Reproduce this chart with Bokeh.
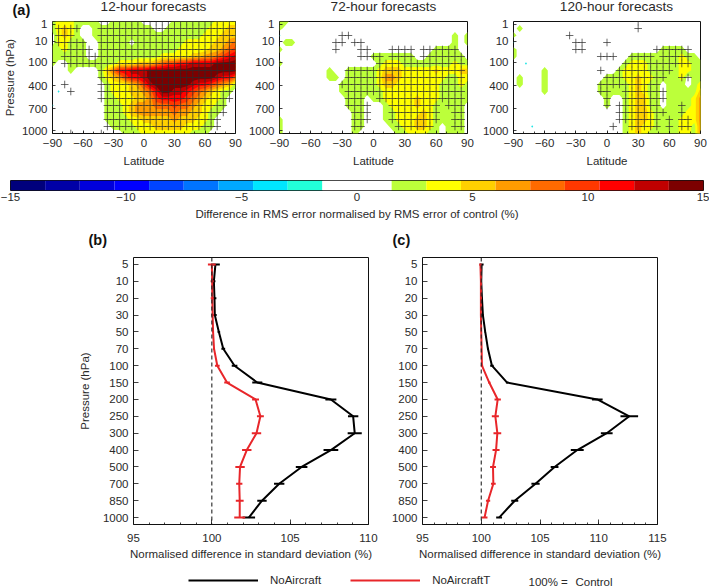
from bokeh.plotting import figure
from bokeh.layouts import column, row
from bokeh.models import Range1d, Span, Label, Legend, LegendItem, FixedTicker
from bokeh.embed import file_html
from bokeh.resources import INLINE
import numpy as np

FONT = "Liberation Sans"
TXT = "#2a2a2a"

# latitude nodes of the hand-read fields (degrees), one every 6 degrees
latitudes = list(range(-90, 91, 6))
lat_ticks = [-90, -60, -30, 0, 30, 60, 90]
lat_labels = ["−90", "−60", "−30", "0", "30", "60", "90"]
# pressure ticks of panel (a), on the row scale of the fields
pressure_a_pos = [0.4, 2.8, 5.8, 9.2, 12.45, 15.6]
pressure_a_labels = ["1", "10", "100", "400", "700", "1000"]

# colour classes: c=cyan, 0=white, 1..9 = the warm bands of the colour bar
fill_12h = [
    "12221 11100 11111 00000 11111 11222 2",
    "12321 00111 11111 11001 11111 12223 3",
    "02321 00111 11111 11111 11111 22233 3",
    "02211 10011 11101 11111 11222 22334 5",
    "11211 10011 11111 11111 12222 23345 6",
    "11111 10011 11111 11122 22233 44567 8",
    "10011 11111 12223 33456 67788 88999 9",
    "00010 00013 57788 89999 99999 99999 9",
    "00000 00012 34677 89999 99999 99877 5",
    "00000 00001 22234 68999 99987 76543 1",
    "0c000 00001 22233 45799 88765 43211 0",
    "00000 00001 12223 34677 77654 32210 0",
    "c0000 00001 11234 44555 65543 22110 0",
    "00000 00001 11234 44444 54433 21100 0",
    "00000 00001 11122 33333 43332 21000 0",
    "00000 00000 11112 22333 33222 11000 0",
    "00000 00000 00111 22222 22211 10000 c",
]
sig_12h = [
    "00000 00011 11111 11111 11111 11111 1",
    "01111 00011 11111 11111 11111 11111 1",
    "01110 00011 11111 11111 11111 11111 1",
    "01111 10011 11111 11111 11111 11111 1",
    "00111 11011 11111 11111 11111 11111 1",
    "00111 11111 11111 11111 11111 11111 1",
    "00111 11111 11111 11111 11111 11111 1",
    "00000 00011 11111 11111 11111 11111 1",
    "00000 00011 11111 11111 11111 11111 1",
    "00100 00011 11111 11111 11111 11111 1",
    "00010 00011 11111 11111 11111 11111 0",
    "00000 00011 11111 11111 11111 11111 0",
    "00000 00001 11111 11111 11111 11110 0",
    "00000 00001 11111 11111 11111 11110 0",
    "00000 00001 11111 11111 11111 11100 0",
    "00000 00001 11111 11111 11111 11100 0",
    "00010 00010 10000 00000 00000 00000 0",
]
fill_72h = [
    "11000 00000 00000 00000 00000 00000 0",
    "10000 00000 00000 00000 00000 00000 0",
    "c0000 00000 00000 00000 00000 00010 1",
    "01100 00000 00000 00000 00000 00010 1",
    "10000 00000 00000 00000 00000 11110 0",
    "00000 00000 00000 11111 11001 11111 0",
    "10000 00000 00000 01222 11111 11121 1",
    "00000 00010 01111 12333 22222 32223 3",
    "00000 00011 01111 12443 22222 22112 2",
    "00000 00000 11111 12332 22222 21112 1",
    "00000 00000 11111 11222 22222 21111 1",
    "00000 00000 01110 11222 22322 21111 1",
    "00000 00000 01110 00122 22322 11111 0",
    "00000 00000 00110 00112 22232 11111 0",
    "10000 00000 00110 00112 22332 11111 0",
    "10000 00000 00110 00011 22332 10111 0",
    "10000 00000 00100 00001 12221 10111 0",
]
sig_72h = [
    "00000 00000 00000 00000 00000 00000 0",
    "00000 00000 00000 00000 00000 00000 0",
    "00000 00000 11000 00000 00000 00000 0",
    "00000 00001 10110 00000 00000 00000 0",
    "00000 00001 00011 00011 11011 11110 0",
    "00000 00000 00011 11011 11011 11111 0",
    "00000 00000 00000 01111 11111 11111 0",
    "00000 00000 01111 11111 11111 11111 0",
    "00000 00000 01111 11111 11111 11111 0",
    "00000 00000 11111 11111 11111 11111 0",
    "00000 00000 01111 11111 11111 11111 0",
    "00000 00000 01110 01111 11111 11111 0",
    "00000 00000 01111 00011 11111 10111 0",
    "00000 00000 00111 00011 11111 10011 0",
    "00000 00000 00111 00011 11111 10011 0",
    "00000 00000 00110 00001 11111 00011 0",
    "00000 00000 00000 00000 00000 00000 0",
]
fill_120h = [
    "00000 00000 00000 00000 00000 00000 0",
    "01000 00000 00000 00000 00000 00000 0",
    "10000 00000 00000 00000 00000 00000 0",
    "c0000 00000 00000 00000 00000 00000 0",
    "10000 00000 00000 00000 00001 11100 0",
    "10000 00000 00000 00001 11111 11211 0",
    "00c00 00000 00000 00012 22111 11221 1",
    "00000 10000 00000 00122 22111 11221 1",
    "01000 10000 00000 11122 32211 11201 1",
    "01000 10000 00001 11112 32110 11101 2",
    "00000 10000 00001 11112 32110 11111 3",
    "00000 00000 00000 10012 33110 11112 4",
    "00000 00000 00000 10012 33110 11112 4",
    "00000 00000 00000 00012 33211 11122 4",
    "00000 00000 00000 00012 33211 11222 4",
    "000c0 00000 00000 00012 32211 11221 4",
    "00000 00000 00000 00012 32111 11221 4",
]
sig_120h = [
    "00000 00000 00000 00000 10000 00000 0",
    "00000 00000 00000 00000 10000 00000 0",
    "00000 00001 00000 00000 00000 00000 0",
    "00000 00000 11000 10000 00000 00000 0",
    "00000 00000 11000 00000 00011 11110 0",
    "00000 00000 00001 11001 11101 11110 0",
    "00000 00000 00000 00011 11111 11110 0",
    "00000 00000 00001 00111 11111 10000 0",
    "00000 00000 00000 11111 11111 00110 0",
    "00000 00000 00001 11111 11110 00000 0",
    "00000 00000 00001 10011 11111 00000 0",
    "00000 00000 00000 10011 11111 00000 0",
    "00000 00000 00000 10111 11110 00100 0",
    "00000 00000 00000 00111 11111 00100 0",
    "00000 00000 00000 00111 11110 10110 0",
    "00000 00000 00000 01001 11110 10110 0",
    "00000 00000 00000 00000 00000 00000 0",
]

# colour bar
bar_edges = [-15, -13.5, -12, -10.5, -9, -7.5, -6, -4.5, -3, -1.5, 0, 1.5, 3, 4.5, 6, 7.5, 9, 10.5, 12, 13.5, 15]
bar_colors = ["#00007c", "#0000a6", "#0000dc", "#0000ff", "#0044ff", "#0074ff", "#00a8ff", "#00e6ff", "#22ffd8",
              "#ffffff", "#ffffff", "#bcff3a", "#ffff00", "#ffd000", "#ff9c00", "#ff6a00", "#ff3800", "#ff0000",
              "#c00000", "#7c0000"]
bar_ticks = [-15, -10, -5, 0, 5, 10, 15]
bar_labels = ["−15", "−10", "−5", "0", "5", "10", "15"]

# profiles
levels_hpa = ["5", "10", "20", "30", "50", "70", "100", "150", "200", "250", "300", "400", "500", "700", "850", "1000"]
b_black = [100.23, 100.13, 100.17, 100.19, 100.45, 100.73, 101.45, 102.9, 107.6, 109.02, 109.12, 107.6, 105.73, 104.3, 103.2, 102.36]
b_black_err = [.28, .1, .12, .12, .08, .12, .18, .32, .35, .33, .45, .47, .37, .33, .3, .4]
b_red = [100.0, 100.02, 100.03, 100.05, 100.08, 100.14, 100.35, 100.97, 102.79, 103.1, 102.85, 102.23, 101.8, 101.75, 101.78, 101.78]
b_red_err = [.25, .1, .1, .08, .05, .06, .15, .18, .22, .22, .3, .3, .3, .2, .25, .35]
c_black = [100.03, 100.0, 100.06, 100.14, 100.34, 100.57, 100.91, 102.2, 109.88, 112.6, 110.68, 108.17, 106.24, 104.62, 102.85, 101.52]
c_black_err = [.17, .05, .05, .05, .05, .08, .15, .1, .45, .75, .5, .55, .33, .35, .3, .25]
c_red = [99.93, 99.97, 99.97, 99.97, 100.0, 100.03, 100.06, 100.68, 101.4, 101.2, 101.37, 101.26, 101.0, 101.03, 100.58, 100.28]
c_red_err = [.1, .03, .03, .03, .03, .03, .1, .1, .27, .3, .33, .3, .25, .2, .18, .25]


def parse(rows):
    out = []
    for r in rows:
        out.append([-0.6 if ch == "c" else float(ch) for ch in r.replace(" ", "")])
    return np.array(out)


def style_axes(p, tick_in=3):
    for ax in list(p.xaxis) + list(p.yaxis):
        ax.axis_line_color = None
        ax.major_tick_in = tick_in
        ax.major_tick_out = 0
        ax.major_tick_line_color = "#111111"
        ax.minor_tick_line_color = "#111111"
        ax.major_tick_line_width = 0.8
        ax.minor_tick_line_width = 0.8
        ax.minor_tick_in = 2
        ax.minor_tick_out = 0
        ax.major_label_text_font = FONT
        ax.major_label_text_font_size = "11.5px"
        ax.major_label_text_color = TXT
        ax.axis_label_text_font = FONT
        ax.axis_label_text_font_size = "11.5px"
        ax.axis_label_text_font_style = "normal"
        ax.axis_label_text_color = TXT
    p.outline_line_color = "#111111"
    p.outline_line_width = 1
    p.grid.visible = False


warm_colors = bar_colors[11:]
CYAN = "#22e6e6"


def strip(height):
    s = figure(width=709, height=height, x_range=Range1d(0, 1), y_range=Range1d(0, 1),
               x_axis_type=None, y_axis_type=None, output_backend="svg", toolbar_location=None,
               min_border=0, outline_line_color=None)
    s.grid.visible = False
    return s


def write(s, text, x, y, size="11.5px", bold=False, align="left"):
    s.add_layout(Label(x=x, y=y, x_units="screen", y_units="screen", text=text,
                       text_font=FONT, text_font_size=size, text_color="#111111" if bold else TXT,
                       text_font_style="bold" if bold else "normal", text_align=align,
                       text_baseline="middle"))


def field_panel(fill, sig, width, left, right, ylabel=False):
    p = figure(width=width, height=153, x_range=Range1d(-90, 90), y_range=Range1d(16, 0),
               output_backend="svg", toolbar_location=None,
               min_border_left=left, min_border_right=right, min_border_top=2, min_border_bottom=39)
    rows = np.arange(17).astype(float)
    lats = np.array(latitudes, dtype=float)
    z = parse(fill)
    p.contour(lats, rows, z, [-99, -0.5], fill_color=[CYAN], line_color=None)
    # one filled band per class, painted from the lowest up so no seams show
    for k, col in enumerate(warm_colors):
        if z.max() > k + 0.5:
            p.contour(lats, rows, z, [k + 0.5, 99], fill_color=[col], line_color=None)
    s = parse(sig)
    ri, ci = np.nonzero(s)
    p.scatter(np.array(latitudes)[ci], rows[ri], marker="cross", size=7.6,
              line_color="#2b2b2b", line_width=0.7, fill_color=None)
    style_axes(p)
    p.xaxis.ticker = FixedTicker(ticks=lat_ticks, minor_ticks=list(range(-90, 91, 10)))
    p.xaxis.major_label_overrides = dict(zip(lat_ticks, lat_labels))
    p.xaxis.axis_label = "Latitude"
    p.yaxis.ticker = FixedTicker(ticks=pressure_a_pos)
    p.yaxis.major_label_overrides = dict(zip(pressure_a_pos, pressure_a_labels))
    p.xaxis.major_label_standoff = 5
    p.yaxis.major_label_standoff = 5
    p.xaxis.axis_label_standoff = 5
    if ylabel:
        p.yaxis.axis_label = "Pressure (hPa)"
        p.yaxis.axis_label_standoff = 3
    return p


top = strip(19)
write(top, "(a)", 2, 10, size="14.5px", bold=True)
write(top, "12-hour forecasts", 143, 13, size="13.6px", align="center")
write(top, "72-hour forecasts", 373, 13, size="13.6px", align="center")
write(top, "120-hour forecasts", 606, 13, size="13.6px", align="center")

p1 = field_panel(fill_12h, sig_12h, 243, 48, 8, ylabel=True)
p2 = field_panel(fill_72h, sig_72h, 233, 36, 9)
p3 = field_panel(fill_120h, sig_120h, 233, 37, 9)

# colour bar strip
pc = figure(width=709, height=50, x_range=Range1d(-15, 15), y_range=Range1d(0, 1),
            output_backend="svg", toolbar_location=None, y_axis_type=None,
            min_border_left=10, min_border_right=6, min_border_top=8, min_border_bottom=31)
pc.quad(left=bar_edges[:-1], right=bar_edges[1:], bottom=0, top=1, fill_color=bar_colors, line_color=None)
style_axes(pc, tick_in=0)
pc.xaxis.ticker = FixedTicker(ticks=bar_ticks)
pc.xaxis.major_label_overrides = dict(zip(bar_ticks, bar_labels))
pc.xaxis.major_label_standoff = 2
pc.xaxis.axis_label = "Difference in RMS error normalised by RMS error of control (%)"
pc.xaxis.axis_label_standoff = 4

mid = strip(33)
write(mid, "(b)", 78, 16, size="14.5px", bold=True)
write(mid, "(c)", 382, 16, size="14.5px", bold=True)


def profile_panel(black, black_err, red, red_err, xmax, width, left, right, ylabel):
    idx = np.arange(len(levels_hpa))
    p = figure(width=width, height=307, x_range=Range1d(95, xmax), y_range=Range1d(15.41, -0.41),
               output_backend="svg", toolbar_location=None,
               min_border_left=left, min_border_right=right, min_border_top=2, min_border_bottom=34)
    p.add_layout(Span(location=100, dimension="height", line_color="#222222", line_dash="4 3", line_width=1.1))
    for vals, errs, col in ((black, black_err, "#000000"), (red, red_err, "#e8262a")):
        v, e = np.array(vals), np.array(errs)
        p.line(v, idx, line_color=col, line_width=2)
        p.segment(v - e, idx, v + e, idx, line_color=col, line_width=2)
    style_axes(p, tick_in=5)
    majors = list(range(95, xmax + 1, 5))
    p.xaxis.ticker = FixedTicker(ticks=majors, minor_ticks=list(range(95, xmax + 1)))
    p.yaxis.ticker = FixedTicker(ticks=list(idx))
    p.yaxis.major_label_overrides = {int(i): s for i, s in zip(idx, levels_hpa)}
    p.xaxis.axis_label = "Normalised difference in standard deviation (%)"
    p.xaxis.major_label_standoff = 9
    p.yaxis.major_label_standoff = 5
    p.xaxis.axis_label_standoff = 3
    if ylabel:
        p.yaxis.axis_label = "Pressure (hPa)"
        p.yaxis.axis_label_standoff = 9
    return p


pb = profile_panel(b_black, b_black_err, b_red, b_red_err, 110, 378, 133, 10, True)
pc2 = profile_panel(c_black, c_black_err, c_red, c_red_err, 115, 331, 44, 52, False)

# legend strip
pl = strip(24)
r_black = pl.line([5, 6], [5, 6], line_color="#000000", line_width=2)
r_red = pl.line([5, 6], [5, 6], line_color="#e8262a", line_width=2)
leg = Legend(items=[LegendItem(label="NoAircraft", renderers=[r_black]),
                    LegendItem(label="NoAircraftT", renderers=[r_red])],
             orientation="horizontal", location=(178, 0), glyph_width=70, glyph_height=10,
             label_standoff=12, spacing=29, padding=0, margin=0, border_line_color=None,
             background_fill_alpha=0, label_text_font=FONT, label_text_font_size="11.5px",
             label_text_color=TXT, label_height=10)
pl.add_layout(leg)
write(pl, "100% =", 518, 5)
write(pl, "Control", 565, 5)

page = column(top, row(p1, p2, p3, spacing=0), pc, mid, row(pb, pc2, spacing=0), pl, spacing=0)
open("out.html", "w").write(file_html(page, INLINE))
